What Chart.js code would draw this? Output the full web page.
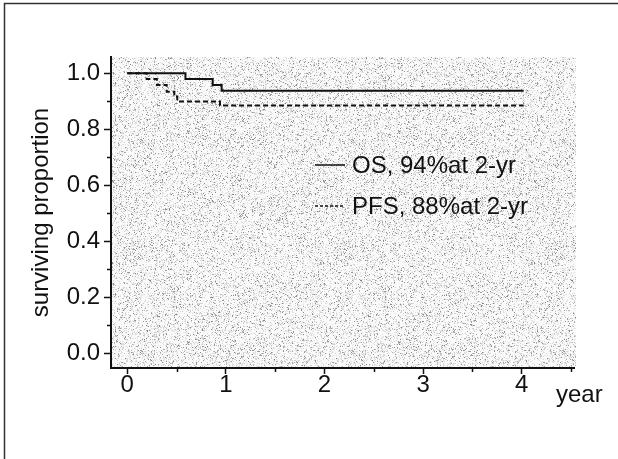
<!DOCTYPE html>
<html><head><meta charset="utf-8">
<script src="https://cdn.jsdelivr.net/npm/chart.js@4/dist/chart.umd.min.js"></script>
<style>html,body{margin:0;padding:0;background:#fff}canvas{display:block}</style>
</head><body>
<canvas id="c" width="618" height="459"></canvas>
<script>
// ---- data ----
const osTimes = [0, 0.59, 0.866, 0.957, 4.02];
const osValues = [1.0, 0.979, 0.958, 0.9375, 0.9375];
const pfsTimes = [0, 0.197, 0.30, 0.40, 0.477, 0.507, 0.94, 4.02];
const pfsValues = [1.0, 0.979, 0.958, 0.934, 0.917, 0.899, 0.885, 0.885];
const seriesLabels = ['OS, 94%at 2-yr', 'PFS, 88%at 2-yr'];
const xTickValues = [0, 1, 2, 3, 4];
const xMinorTickValues = [0.5, 1.5, 2.5, 3.5, 4.5];
const yTickValues = [0, 0.2, 0.4, 0.6, 0.8, 1.0];
const yMinorTickValues = [0.1, 0.3, 0.5, 0.7, 0.9];
const xAxisTitle = 'year';
const yAxisTitle = 'surviving proportion';

const FONT = "'Liberation Sans', Arial, Helvetica, sans-serif";
const INK = '#111';

function hash(x, y, s) {
  let h = (Math.imul(x, 374761393) + Math.imul(y, 668265263) + Math.imul(s, 982451653)) | 0;
  h = Math.imul(h ^ (h >>> 13), 1274126177);
  h ^= h >>> 16;
  return (h >>> 0) / 4294967296;
}
function makeStippleTile() {
  const n = 211;
  const c = document.createElement('canvas'); c.width = n; c.height = n;
  const g = c.getContext('2d'); const img = g.createImageData(n, n);
  for (let y = 0; y < n; y++) for (let x = 0; x < n; x++) {
    const h = hash(x, y, 1), h2 = hash(x, y, 2);
    let v = 250;
    if (h < 0.12) v = Math.round(130 + h2 * 90);
    else if (h < 0.30) v = Math.round(205 + h2 * 30);
    const k = (y * n + x) * 4;
    img.data[k] = img.data[k + 1] = img.data[k + 2] = v; img.data[k + 3] = 255;
  }
  g.putImageData(img, 0, 0);
  return c;
}
const tile = makeStippleTile();

const stipplePlugin = {
  id: 'stipple',
  beforeDraw(chart) {
    const {ctx, chartArea: a} = chart;
    ctx.save();
    ctx.fillStyle = ctx.createPattern(tile, 'repeat');
    ctx.fillRect(a.left, a.top, a.right - a.left + 2, a.bottom - a.top);
    ctx.restore();
  }
};

const extrasPlugin = {
  id: 'extras',
  afterDraw(chart) {
    const {ctx, chartArea: a, scales: {x, y}} = chart;
    ctx.save();
    ctx.strokeStyle = INK; ctx.lineWidth = 1.5;
    // minor ticks
    ctx.beginPath();
    xMinorTickValues.forEach(v => { const px = Math.round(x.getPixelForValue(v)) + 0.5; ctx.moveTo(px, a.bottom); ctx.lineTo(px, a.bottom + 4); });
    yMinorTickValues.forEach(v => { const py = Math.round(y.getPixelForValue(v)) + 0.5; ctx.moveTo(a.left, py); ctx.lineTo(a.left - 4, py); });
    ctx.stroke();
    // x axis title
    ctx.fillStyle = INK;
    ctx.font = '24px ' + FONT;
    ctx.textAlign = 'left'; ctx.textBaseline = 'alphabetic';
    ctx.fillText(xAxisTitle, 556, 402);
    // legend
    const rows = [165, 206];
    chart.data.datasets.forEach((ds, i) => {
      ctx.beginPath();
      ctx.lineWidth = 1.5;
      ctx.setLineDash(i === 1 ? [3, 2] : []);
      ctx.moveTo(315, rows[i]); ctx.lineTo(345, rows[i]);
      ctx.stroke();
      ctx.setLineDash([]);
      ctx.textBaseline = 'middle';
      ctx.fillText(ds.label, 352, rows[i] + 1);
    });
    // frame
    ctx.strokeStyle = '#333'; ctx.lineWidth = 1.5;
    ctx.beginPath();
    ctx.moveTo(618, 3.5); ctx.lineTo(4.5, 3.5); ctx.lineTo(4.5, 459);
    ctx.stroke();
    ctx.restore();
  }
};

new Chart(document.getElementById('c'), {
  type: 'line',
  data: {
    datasets: [
      {label: seriesLabels[0], data: osTimes.map((t, i) => ({x: t, y: osValues[i]})),
       stepped: 'before', borderColor: INK, borderWidth: 2, pointRadius: 0, fill: false},
      {label: seriesLabels[1], data: pfsTimes.map((t, i) => ({x: t, y: pfsValues[i]})),
       stepped: 'before', borderColor: INK, borderWidth: 2, borderDash: [5, 3], pointRadius: 0, fill: false}
    ]
  },
  options: {
    responsive: false, animation: false, devicePixelRatio: 1,
    layout: {padding: {top: 57, right: 44, left: 0, bottom: 0}},
    plugins: {legend: {display: false}, tooltip: {enabled: false}, title: {display: false}},
    scales: {
      x: {
        type: 'linear', min: -0.165, max: 4.53,
        afterBuildTicks: s => { s.ticks = xTickValues.map(v => ({value: v})); },
        afterFit: s => { s.height = 91; },
        grid: {drawOnChartArea: false, drawTicks: true, tickLength: 6, tickColor: INK, tickWidth: 1.5},
        border: {display: true, color: INK, width: 2},
        ticks: {font: {family: FONT, size: 24, lineHeight: 1}, color: INK, padding: -1,
                maxRotation: 0, autoSkip: false, callback: v => String(v)}
      },
      y: {
        type: 'linear', min: -0.0525, max: 1.058,
        afterBuildTicks: s => { s.ticks = yTickValues.map(v => ({value: v})); },
        afterFit: s => { s.width = 111; },
        grid: {drawOnChartArea: false, drawTicks: true, tickLength: 7, tickColor: INK, tickWidth: 1.5},
        border: {display: true, color: INK, width: 2},
        ticks: {font: {family: FONT, size: 24}, color: INK, padding: 4,
                autoSkip: false, callback: v => Number(v).toFixed(1)},
        title: {display: true, text: yAxisTitle, color: INK,
                font: {family: FONT, size: 24}, padding: {top: 27, bottom: 0}}
      }
    }
  },
  plugins: [stipplePlugin, extrasPlugin]
});
</script>
</body></html>
